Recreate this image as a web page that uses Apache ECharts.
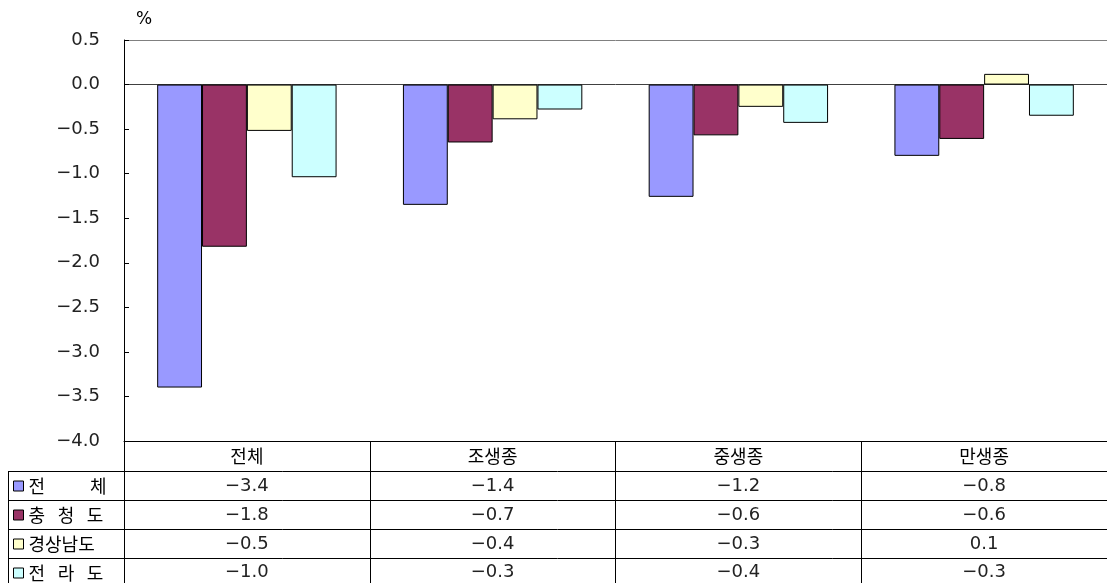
<!DOCTYPE html>
<html>
<head>
<meta charset="utf-8">
<script src="https://cdn.jsdelivr.net/npm/echarts@6/dist/echarts.min.js"></script>
<style>
html,body{margin:0;padding:0;background:#fff;}
#c{width:1107px;height:583px;}
</style>
</head>
<body>
<div id="c"></div>
<script>
// ---- data ----
var categories = ['전체', '조생종', '중생종', '만생종'];
var seriesNames = ['전\u3000\u3000\u2002체', '충\u2002\u2009청\u2002\u2009도', '경상남도', '전\u2002\u2009라\u2002\u2009도'];
var valsTotal = [-3.40, -1.35, -1.26, -0.80];
var valsChungcheong = [-1.82, -0.65, -0.57, -0.61];
var valsGyeongnam = [-0.52, -0.39, -0.25, 0.12];
var valsJeolla = [-1.04, -0.28, -0.43, -0.35];
var tableTotal = ['−3.4', '−1.4', '−1.2', '−0.8'];
var tableChungcheong = ['−1.8', '−0.7', '−0.6', '−0.6'];
var tableGyeongnam = ['−0.5', '−0.4', '−0.3', '0.1'];
var tableJeolla = ['−1.0', '−0.3', '−0.4', '−0.3'];
var yTicks = [-4.0, -3.5, -3.0, -2.5, -2.0, -1.5, -1.0, -0.5, 0.0, 0.5];

var colors = ['#9999FF', '#993366', '#FFFFCC', '#CCFFFF'];
var seriesVals = [valsTotal, valsChungcheong, valsGyeongnam, valsJeolla];
var tableRows = [tableTotal, tableChungcheong, tableGyeongnam, tableJeolla];

var FONT = '"Noto Sans CJK KR", "Noto Sans", sans-serif';
var NUMFONT = '"DejaVu Sans", sans-serif';
var chart = echarts.init(document.getElementById('c'), null, {renderer: 'canvas'});

// split line colors: only 0.0 and 0.5 drawn
var splitColors = yTicks.map(function (t) {
  if (t === 0) return '#404040';
  if (t === 0.5) return '#808080';
  return 'rgba(0,0,0,0)';
});

var series = seriesNames.map(function (n, i) {
  return {
    name: n,
    type: 'bar',
    data: seriesVals[i],
    barGap: '0%',
    barCategoryGap: '27%',
    itemStyle: {color: colors[i], borderColor: '#000', borderWidth: 1},
    emphasis: {disabled: true}
  };
});

chart.setOption({
  animation: false,
  textStyle: {fontFamily: FONT},
  grid: {left: 124, right: 0, top: 40, bottom: 142, containLabel: false},
  legend: {
    orient: 'vertical',
    left: 13,
    top: 477,
    height: 140,
    padding: 0,
    itemWidth: 10,
    itemHeight: 10,
    itemGap: 11,
    icon: 'rect',
    selectedMode: false,
    itemStyle: {borderColor: '#000', borderWidth: 1},
    textStyle: {fontSize: 18, lineHeight: 18, color: '#000', fontFamily: FONT, padding: [0, 0, 0, 0]},
    data: seriesNames
  },
  xAxis: {
    type: 'category',
    data: categories,
    position: 'bottom',
    axisLine: {show: true, onZero: false, lineStyle: {color: '#000', width: 1}},
    axisTick: {show: true, alignWithLabel: false, inside: false, length: 143, lineStyle: {color: '#000', width: 1}},
    axisLabel: {margin: 6, fontSize: 18, color: '#000', fontFamily: FONT},
    splitLine: {show: false}
  },
  yAxis: {
    type: 'value',
    min: -4.0,
    max: 0.5,
    interval: 0.5,
    name: '%',
    nameLocation: 'end',
    nameGap: 12,
    nameTextStyle: {fontSize: 17, color: '#000', align: 'left', padding: [0, 0, 0, 12], fontFamily: NUMFONT},
    axisLine: {show: true, lineStyle: {color: '#000', width: 1}},
    axisTick: {show: true, inside: true, length: 5, lineStyle: {color: '#000'}},
    axisLabel: {
      margin: 24,
      fontSize: 18,
      color: '#222',
      fontFamily: NUMFONT,
      formatter: function (v) { return v.toFixed(1).replace('-', '−'); }
    },
    splitLine: {show: true, lineStyle: {color: splitColors, width: 1}}
  },
  series: series
});

// table lines and cell text
var rowLines = [471, 500, 529, 558];
var rowCenters = [486, 515, 544, 572];
var graphics = [];
rowLines.forEach(function (y) {
  graphics.push({type: 'line', shape: {x1: 8, y1: y + 0.5, x2: 1107, y2: y + 0.5}, style: {stroke: '#000', lineWidth: 1}, silent: true});
});
graphics.push({type: 'line', shape: {x1: 8.5, y1: 471, x2: 8.5, y2: 583}, style: {stroke: '#000', lineWidth: 1}, silent: true});
tableRows.forEach(function (row, r) {
  row.forEach(function (txt, c) {
    var px = chart.convertToPixel({xAxisIndex: 0}, categories[c]);
    graphics.push({
      type: 'text', silent: true,
      x: px, y: rowCenters[r],
      style: {text: txt, fill: '#222', font: '18px ' + NUMFONT, textAlign: 'center', textVerticalAlign: 'middle'}
    });
  });
});
chart.setOption({graphic: graphics});
</script>
</body>
</html>
